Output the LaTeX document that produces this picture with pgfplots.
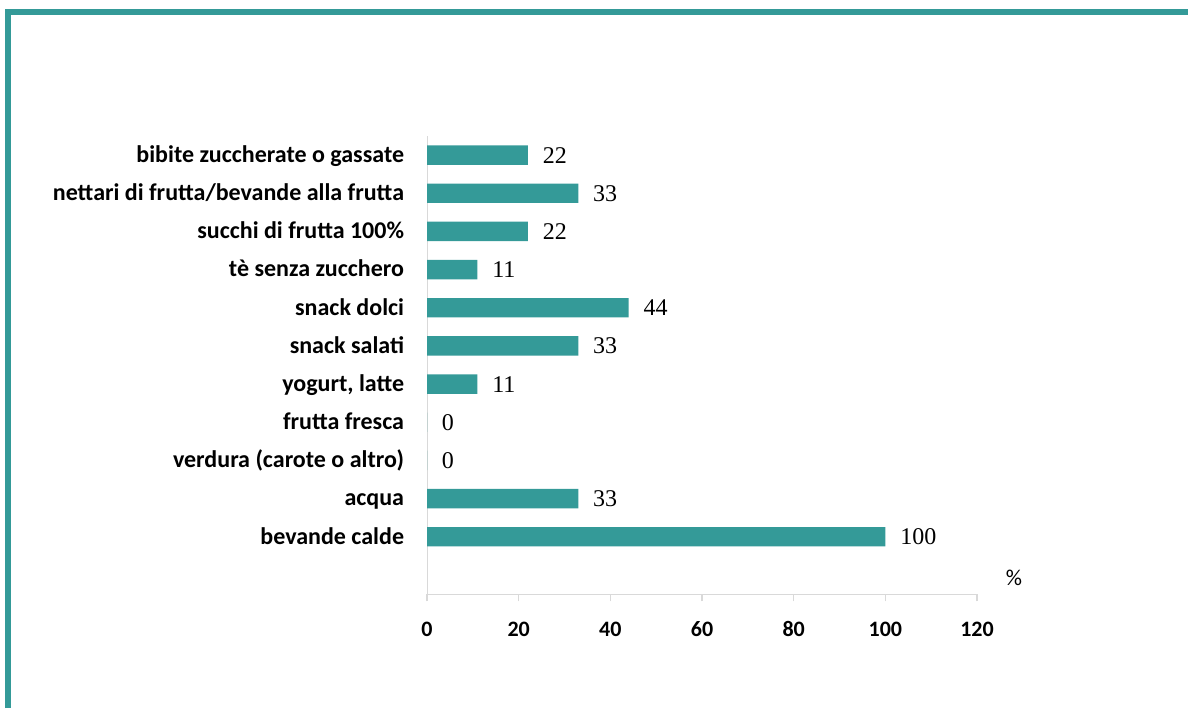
\documentclass[border=0pt]{standalone}
\usepackage{pgfplots}
\pgfplotsset{compat=1.18}
\usepackage{fontspec}
\setmainfont{Carlito}
\newfontfamily\valfont{Liberation Serif}
\definecolor{barteal}{RGB}{52,154,152}
\definecolor{axisgray}{RGB}{217,217,217}

% values, bottom to top (y = 1 ... 11)
\pgfplotstableread{
y val
1 100
2 33
3 0
4 0
5 11
6 33
7 44
8 11
9 22
10 33
11 22
}\foodtable

\begin{document}
\begin{tikzpicture}[x=1pt,y=1pt]
\useasboundingbox (0,0) rectangle (891,531);
% teal frame at top and left
\draw[barteal, line width=4.5pt, line join=miter] (6,0) -- (6,522) -- (891,522);
\begin{axis}[
    at={(320.25pt,85.5pt)}, anchor=south west,
    scale only axis,
    width=412.5pt, height=343.5pt,
    xbar, bar width=14.6pt,
    xmin=0, xmax=120,
    ymin=-0.5, ymax=11.5,
    xtick={0,20,...,120},
    ytick={1,...,11},
    yticklabels={bevande calde, acqua, verdura (carote o altro), frutta fresca,
        {yogurt, latte}, snack salati, snack dolci, tè senza zucchero,
        succhi di frutta 100\%, nettari di frutta/bevande alla frutta,
        bibite zuccherate o gassate},
    axis x line*=bottom, axis y line*=left,
    axis line style={axisgray, -},
    x tick style={axisgray, thick},
    xtick align=outside, major tick length=5.5pt,
    y tick style={draw=none},
    /pgf/number format/assume math mode=true,
    xticklabel style={font=\fontsize{16.5}{19}\selectfont\bfseries, anchor=base, yshift=-26.5pt},
    yticklabel style={font=\fontsize{18}{21}\selectfont\bfseries, anchor=base east, inner sep=0pt, xshift=-11.5pt, yshift=-5.5pt},
    xlabel={\%}, xlabel style={font=\fontsize{17}{20}\selectfont, at={(rel axis cs:1.067,0.035)}, anchor=center},
    nodes near coords,
    every node near coord/.append style={font=\valfont\fontsize{18}{21}\selectfont, anchor=west, inner sep=0pt, xshift=11pt, black},
]
\addplot[fill=barteal, draw=none] table[x=val, y=y] {\foodtable};
\end{axis}
\end{tikzpicture}
\end{document}
